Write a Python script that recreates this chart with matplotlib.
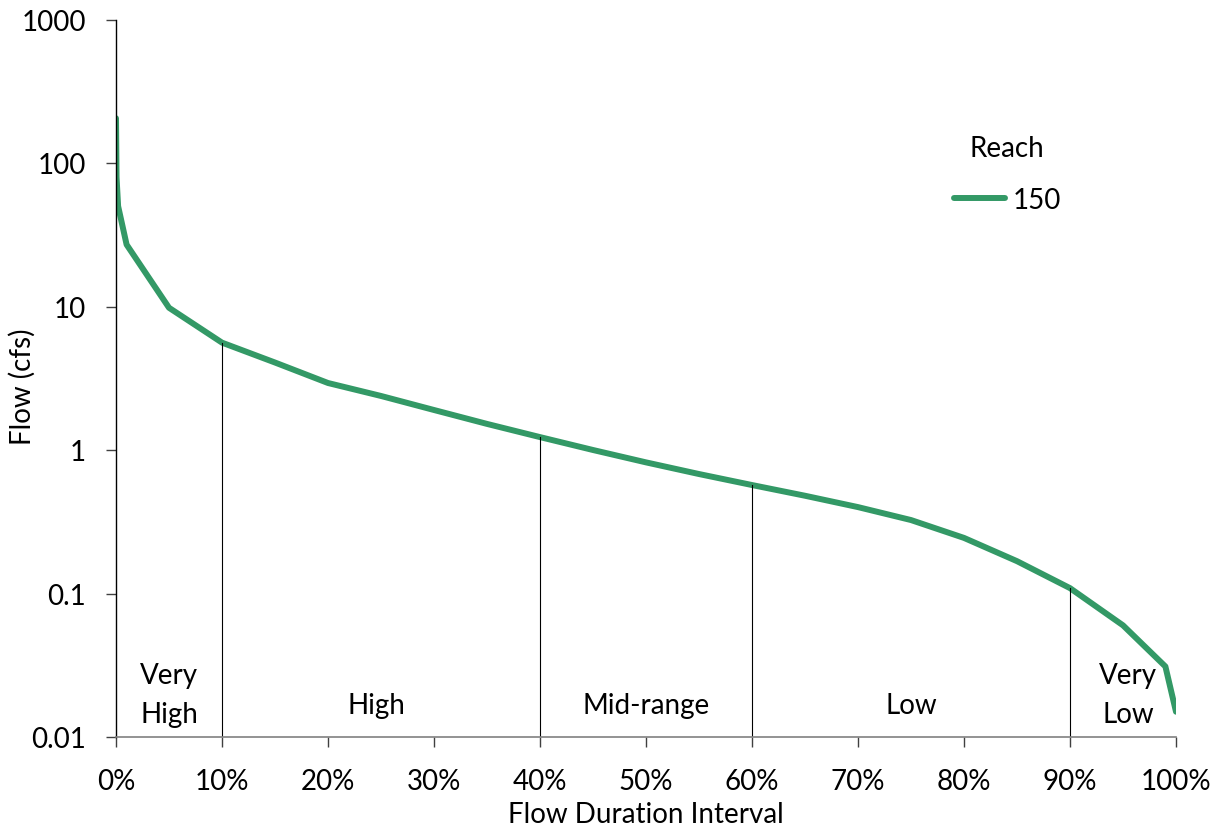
import matplotlib
matplotlib.use("Agg")
import numpy as np
import matplotlib.pyplot as plt
from matplotlib.ticker import FixedLocator, FuncFormatter, NullLocator

plt.rcParams['font.family'] = ['Lato', 'DejaVu Sans']

# flow duration curve, reach 150
pct = [0, 0.05, 0.2, 1, 5, 10, 15, 20, 25, 30, 35, 40, 45, 50, 55, 60,
       65, 70, 75, 80, 85, 90, 95, 99, 100]
flow = [205, 80, 50, 27, 9.8, 5.6, 4.07, 2.93, 2.38, 1.9, 1.52, 1.23, 1.0,
        0.82, 0.68, 0.57, 0.48, 0.40, 0.325, 0.244, 0.168, 0.109, 0.06,
        0.031, 0.015]

breaks = [10, 40, 60, 90]
zone_names = ["Very\nHigh", "High", "Mid-range", "Low", "Very\nLow"]
zone_x = [5, 24.6, 50, 75, 95.5]
y_ticks = [0.01, 0.1, 1, 10, 100, 1000]


def main():
    fig = plt.figure(figsize=(12.24, 8.28), dpi=100)
    ax = fig.add_axes([116 / 1224, 1 - 738 / 828, 1060 / 1224, 717.5 / 828])

    ax.plot(pct, flow, color="#339966", lw=4.3, solid_capstyle="round",
            label="150")
    ax.set_yscale("log")
    ax.set_ylim(0.01, 1000)
    ax.set_xlim(0, 100)

    # interval dividers up to the curve
    for b in breaks:
        yb = 10 ** np.interp(b, pct, np.log10(flow))
        ax.plot([b, b], [0.01, yb], color="black", lw=0.8)

    for xz, name in zip(zone_x, zone_names):
        yz = 0.0197 if "\n" in name else 0.0168
        ax.text(xz, yz, name, ha="center", va="center", fontsize=20,
                linespacing=1.6)

    ax.yaxis.set_major_locator(FixedLocator(y_ticks))
    ax.yaxis.set_minor_locator(NullLocator())
    ax.yaxis.set_major_formatter(FuncFormatter(lambda v, p: "%g" % v))
    ax.set_xticks(range(0, 101, 10))
    ax.xaxis.set_major_formatter(FuncFormatter(lambda v, p: "%d%%" % v))
    ax.tick_params(axis="both", labelsize=20, length=7.5, width=1,
                   direction="out", color="#404040")
    ax.tick_params(axis="x", pad=15)
    ax.tick_params(axis="y", pad=14)

    for s in ["top", "right"]:
        ax.spines[s].set_visible(False)
    ax.spines["left"].set_linewidth(1)
    ax.spines["bottom"].set_color("#808080")
    ax.spines["bottom"].set_linewidth(1.2)

    ax.set_xlabel("Flow Duration Interval", fontsize=20, labelpad=5)
    ax.set_ylabel("Flow (cfs)", fontsize=20)
    ax.yaxis.set_label_coords(-0.0755, 0.49)

    ax.legend(title="Reach", loc="upper left",
              bbox_to_anchor=(0.780, 0.855), frameon=False,
              fontsize=20, title_fontsize=20, handlelength=1.85,
              handletextpad=0.25, labelspacing=0.95, borderaxespad=0)

    fig.savefig("out.png", dpi=100)
    plt.close()


if __name__ == "__main__":
    main()
